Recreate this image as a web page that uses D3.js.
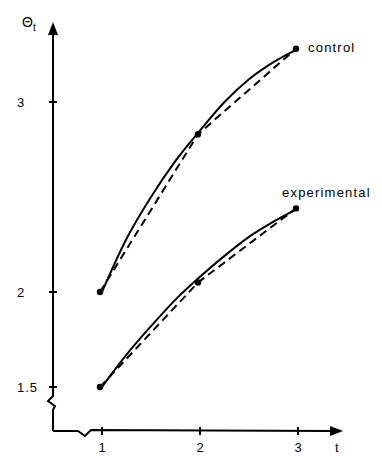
<!DOCTYPE html>
<html>
<head>
<meta charset="utf-8">
<script src="https://cdn.jsdelivr.net/npm/d3@7"></script>
<style>
  body { margin: 0; background: #fff; }
  svg text { font-family: "Liberation Sans", Arial, sans-serif; fill: #000; }
</style>
</head>
<body>
<svg id="chart" width="382" height="460"></svg>
<script>
// observed means at each time point
const times = [1, 2, 3];
const controlObs = [2.0, 2.83, 3.28];
const experimentalObs = [1.5, 2.05, 2.44];

// fitted smooth curves
const fitTimes = [1, 1.25, 1.5, 1.75, 2, 2.25, 2.5, 2.75, 3];
const controlFit = [2.0, 2.28, 2.5, 2.69, 2.85, 3.0, 3.12, 3.21, 3.28];
const experimentalFit = [1.5, 1.67, 1.82, 1.96, 2.08, 2.19, 2.29, 2.37, 2.44];

const xTicks = [1, 2, 3];
const yTicks = [1.5, 2, 3];

const svg = d3.select('#chart');

// scales: t=1 -> 102, 98px per unit; theta 2 -> 292, 190px per unit
const x = d3.scaleLinear().domain([1, 3]).range([102, 298]);
const y = d3.scaleLinear().domain([2, 3]).range([292, 102]);

const x0 = 53, y0 = 431; // origin of the axes

// y axis with a break near the bottom
svg.append('path')
  .attr('d', `M${x0},33 L${x0},396 L${x0 - 5},401 L${x0 + 2},406 L${x0},410 L${x0},${y0}`)
  .attr('fill', 'none').attr('stroke', '#000').attr('stroke-width', 2);

// x axis with a break near the origin
svg.append('path')
  .attr('d', `M${x0},${y0} L78,${y0} L85,436 L91,${y0 - 1} L332,${y0}`)
  .attr('fill', 'none').attr('stroke', '#000').attr('stroke-width', 2);

// arrow heads
svg.append('path')
  .attr('d', `M${x0},22 L${x0 - 5},35 L${x0 + 5},35 Z`).attr('fill', '#000');
svg.append('path')
  .attr('d', `M343,${y0} L330,${y0 - 5} L330,${y0 + 5} Z`).attr('fill', '#000');

// ticks
svg.selectAll('.ytick').data(yTicks).enter().append('line')
  .attr('x1', x0 - 4).attr('x2', x0 + 4)
  .attr('y1', d => y(d)).attr('y2', d => y(d))
  .attr('stroke', '#000').attr('stroke-width', 2);
svg.selectAll('.xtick').data(xTicks).enter().append('line')
  .attr('x1', d => x(d)).attr('x2', d => x(d))
  .attr('y1', y0 - 4).attr('y2', y0 + 4)
  .attr('stroke', '#000').attr('stroke-width', 2);

// tick labels
svg.selectAll('.ylab').data(yTicks).enter().append('text')
  .attr('x', 17).attr('y', d => y(d) + 5)
  .attr('font-size', 13).attr('letter-spacing', 1)
  .text(d => d);
svg.selectAll('.xlab').data(xTicks).enter().append('text')
  .attr('x', d => x(d)).attr('y', 452)
  .attr('text-anchor', 'middle').attr('font-size', 13)
  .text(d => d);

// axis titles
svg.append('text').attr('x', 335).attr('y', 452).attr('font-size', 13).text('t');
const yt = svg.append('text').attr('x', 22).attr('y', 27).attr('font-size', 14);
yt.append('tspan').text('Θ');
yt.append('tspan').attr('dy', 4).attr('font-size', 10).text('t');

// curves
const fitLine = d3.line().x(d => x(d[0])).y(d => y(d[1])).curve(d3.curveMonotoneX);
const obsLine = d3.line().x(d => x(d[0]) - 2).y(d => y(d[1]));

const groups = [
  { fit: controlFit, obs: controlObs, label: 'control', lx: 308, ly: 52 },
  { fit: experimentalFit, obs: experimentalObs, label: 'experimental', lx: 282, ly: 197 }
];

groups.forEach(g => {
  svg.append('path')
    .attr('d', fitLine(fitTimes.map((t, i) => [t, g.fit[i]])))
    .attr('fill', 'none').attr('stroke', '#000').attr('stroke-width', 2);
  svg.append('path')
    .attr('d', obsLine(times.map((t, i) => [t, g.obs[i]])))
    .attr('fill', 'none').attr('stroke', '#000').attr('stroke-width', 2)
    .attr('stroke-dasharray', '8,5');
  svg.selectAll(null).data(times.map((t, i) => [t, g.obs[i]])).enter().append('circle')
    .attr('cx', d => x(d[0]) - 2).attr('cy', d => y(d[1]))
    .attr('r', 3.2).attr('fill', '#000');
  svg.append('text').attr('x', g.lx).attr('y', g.ly)
    .attr('font-size', 13).attr('letter-spacing', 1.2).text(g.label);
});
</script>
</body>
</html>
